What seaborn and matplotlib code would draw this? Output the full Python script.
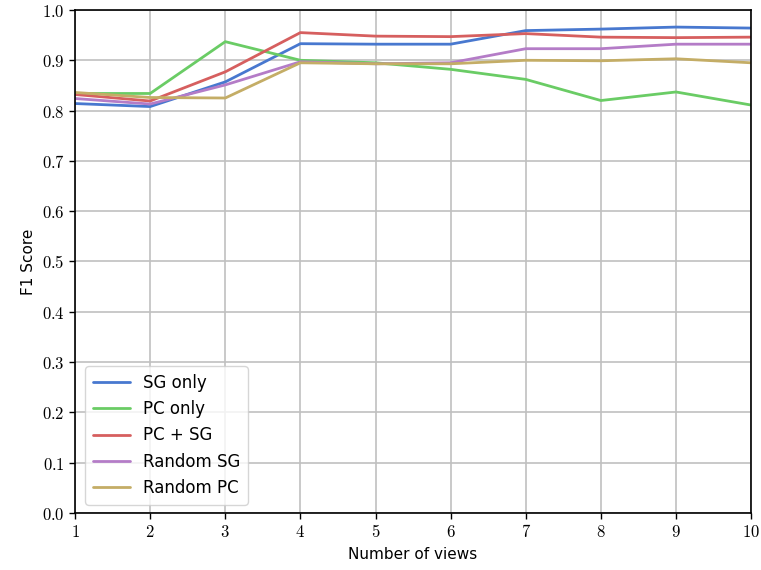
import numpy as np
import pandas as pd
import matplotlib
matplotlib.use('Agg')
import matplotlib.pyplot as plt
import matplotlib.ticker as mticker
import seaborn as sns

# Data
views = [1, 2, 3, 4, 5, 6, 7, 8, 9, 10]
sg_only = [0.814, 0.808, 0.857, 0.933, 0.932, 0.932, 0.959, 0.962, 0.966, 0.964]
pc_only = [0.834, 0.834, 0.937, 0.900, 0.895, 0.882, 0.862, 0.820, 0.837, 0.811]
pc_sg = [0.832, 0.819, 0.877, 0.955, 0.948, 0.947, 0.953, 0.946, 0.945, 0.946]
random_sg = [0.824, 0.813, 0.851, 0.897, 0.893, 0.895, 0.923, 0.923, 0.932, 0.932]
random_pc = [0.836, 0.826, 0.825, 0.895, 0.893, 0.893, 0.900, 0.899, 0.903, 0.895]

series = ['SG only', 'PC only', 'PC + SG', 'Random SG', 'Random PC']
colors = ["#4878CF", "#6ACC65", "#D65F5F", "#B47CC7", "#C4AD66"]

df = pd.DataFrame({'views': views, 'SG only': sg_only, 'PC only': pc_only,
                   'PC + SG': pc_sg, 'Random SG': random_sg,
                   'Random PC': random_pc})
long = df.melt(id_vars='views', var_name='method', value_name='f1')

sns.set_style('whitegrid', {'axes.edgecolor': 'black', 'grid.color': '#c0c0c0',
                            'xtick.bottom': True, 'ytick.left': True,
                            'text.color': 'black', 'axes.labelcolor': 'black',
                            'xtick.color': 'black', 'ytick.color': 'black'})
plt.rcParams['font.family'] = ['DejaVu Sans']
plt.rcParams['mathtext.fontset'] = 'cm'

fig = plt.figure(figsize=(7.61, 5.70), dpi=100)
ax = fig.add_axes([0.0986, 0.1, 0.8884, 0.8825])

sns.lineplot(data=long, x='views', y='f1', hue='method', hue_order=series,
             palette=colors, linewidth=2, ax=ax)

ax.set_xlim(1, 10)
ax.set_ylim(0, 1)
ax.set_xticks(views)
ax.set_yticks(np.arange(0, 1.01, 0.1))
ax.xaxis.set_major_formatter(mticker.FuncFormatter(lambda v, p: f'${v:.0f}$'))
ax.yaxis.set_major_formatter(mticker.FuncFormatter(lambda v, p: f'${v:.1f}$'))
ax.tick_params(axis='both', labelsize=12, length=4, width=1, color='black')
ax.grid(True, linewidth=1.2)
for s in ax.spines.values():
    s.set_linewidth(1.2)

ax.set_xlabel('Number of views', fontsize=11)
ax.set_ylabel('F1 Score', fontsize=11)

leg = ax.legend(loc='lower left', fontsize=12, frameon=True, title=None,
                handlelength=2.2, borderpad=0.45, labelspacing=0.5,
                bbox_to_anchor=(0.003, 0.0))
leg.get_frame().set_edgecolor('#cccccc')

fig.savefig('out.png', dpi=100)
